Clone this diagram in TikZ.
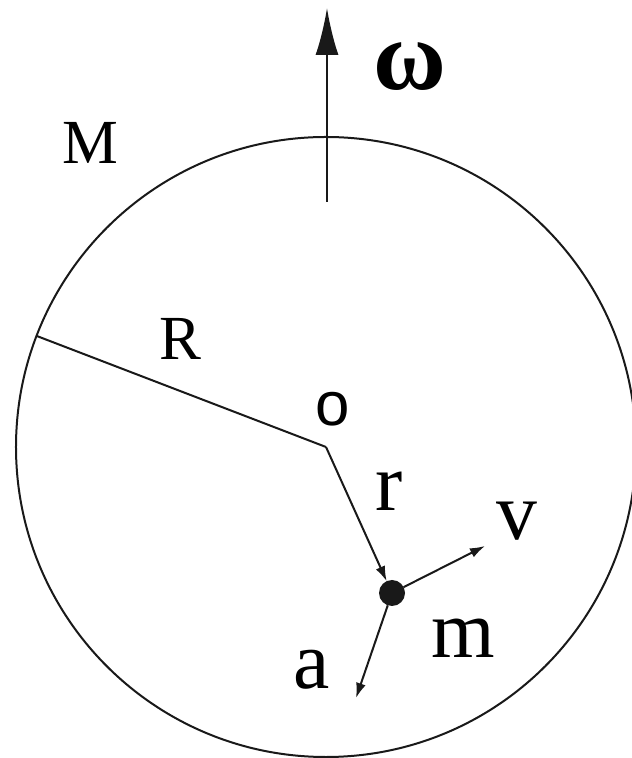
\documentclass[tikz,border=0pt]{standalone}
\usepackage{fontspec}
\setmainfont{Liberation Serif}
\newfontfamily\labelsans{Liberation Sans}
\usetikzlibrary{arrows.meta, positioning, calc}
\tikzset{
  body/.style={
    circle, draw=black!90, line width=2bp,
    minimum size=620bp, inner sep=0pt, outer sep=0pt
  },
  massdot/.style={
    circle, fill=black!90, draw=none,
    minimum size=26bp, inner sep=0pt, outer sep=0pt
  },
  vecarrow/.style={-{Latex[length=15bp, width=10bp]}, line width=2bp, black!90},
  spinarrow/.style={-{Latex[length=47bp, width=23bp]}, line width=2bp, black!90},
  bigcap/.style={font=\fontsize{63}{70}\selectfont, inner sep=0pt},
  smalllet/.style={font=\fontsize{82}{90}\selectfont, inner sep=0pt}
}

\begin{document}
\begin{tikzpicture}[x=1bp, y=1bp]

  \useasboundingbox (0,0) rectangle (632,758);

  % Sphere and centre
  \coordinate (O) at (326,311);
  \node[body] (sphere) at (O) {};
  \coordinate (Redge) at (sphere.159.5);

  % Point mass
  \node[massdot] (mass) at (392,165) {};
  \coordinate (vtip) at (485,212);
  \coordinate (atip) at (356,60);

  % Rotation axis
  \coordinate (axbot) at (327,556);
  \coordinate (axtop) at (327,750);
  \draw[spinarrow] (axbot) -- (axtop);

  % Radius and vectors
  \draw[line width=2bp, black!90] (Redge) -- (O);
  \draw[vecarrow] (O) -- (mass);
  \draw[vecarrow] (mass) -- (vtip);
  \draw[vecarrow] (mass) -- (atip);

  % Labels
  \node[font=\fontsize{100}{104}\selectfont\bfseries, inner sep=0pt] (omega) at (410,691) {ω};
  \node[bigcap] (Mlab) at (90,615) {M};
  \node[bigcap] (Rlab) at (180,419) {R};
  \node[font=\fontsize{62}{70}\selectfont\labelsans, inner sep=0pt] (olab) at (333,349) {o};
  \node[smalllet] (rlab) at (389,267) {r};
  \node[smalllet] (vlab) at (517,237) {v};
  \node[smalllet] (mlab) at (463,120) {m};
  \node[smalllet] (alab) at (312,88) {a};

\end{tikzpicture}
\end{document}
